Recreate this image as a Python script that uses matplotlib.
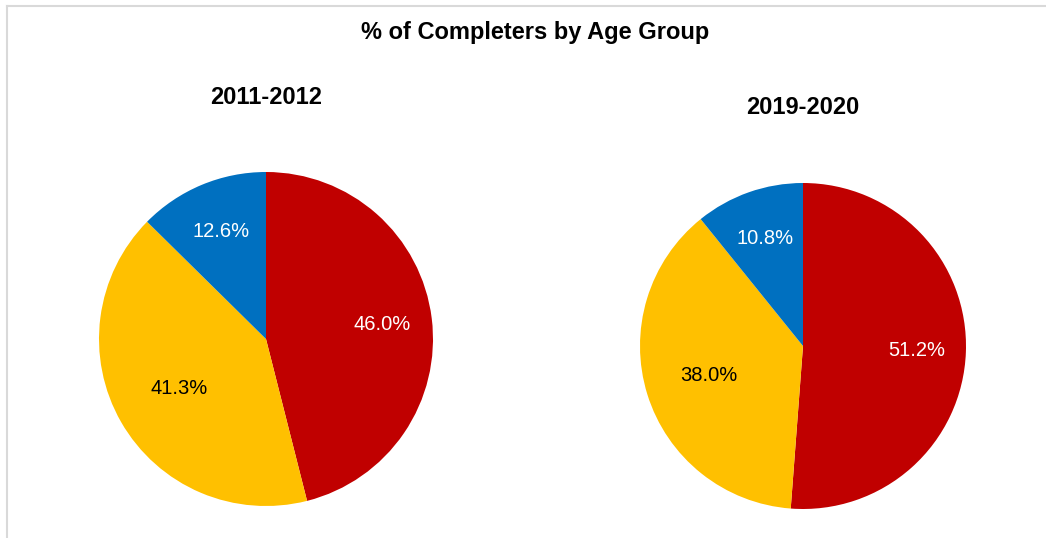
import matplotlib.pyplot as plt
from matplotlib.lines import Line2D

plt.rcParams['font.family'] = ['Liberation Sans', 'DejaVu Sans']

# Data
chart_title = '% of Completers by Age Group'
years = ['2011-2012', '2019-2020']
groups = ['Group A', 'Group B', 'Group C']
share_2011 = [46.0, 41.3, 12.6]
share_2020 = [51.2, 38.0, 10.8]
colors = ['#C00000', '#FFC000', '#0070C0']
label_colors = ['white', 'black', 'white']

fig = plt.figure(figsize=(10.46, 5.38), dpi=100)

# Chart area border (left and top edges visible)
fig.add_artist(Line2D([7 / 1046, 7 / 1046], [0, 1 - 6 / 538], color='#d9d9d9', lw=1.5))
fig.add_artist(Line2D([7 / 1046, 1], [1 - 6 / 538, 1 - 6 / 538], color='#d9d9d9', lw=1.5))

fig.text(535 / 1046, 1 - 32 / 538, chart_title, ha='center', va='center',
         fontsize=17, fontweight='bold')

axes_boxes = [
    [99 / 1046, 32 / 538, 334 / 1046, 334 / 538],
    [640 / 1046, 29 / 538, 326 / 1046, 326 / 538],
]
title_pos = [(266, 97), (803, 108)]
all_values = [share_2011, share_2020]

for box, values, year, tpos in zip(axes_boxes, all_values, years, title_pos):
    ax = fig.add_axes(box)
    wedges, texts, autotexts = ax.pie(
        values, colors=colors, startangle=90, counterclock=False,
        autopct='%1.1f%%', pctdistance=0.70,
        textprops={'fontsize': 14.5})
    for t, c in zip(autotexts, label_colors):
        t.set_color(c)
    # the large yellow label sits a little closer to the centre
    x, y = autotexts[1].get_position()
    autotexts[1].set_position((x * 0.86, y * 0.86))
    ax.set_xlim(-1, 1)
    ax.set_ylim(-1, 1)
    ax.set_aspect('equal')
    fig.text(tpos[0] / 1046, 1 - tpos[1] / 538, year, ha='center', va='center',
             fontsize=17, fontweight='bold')

fig.savefig('out.png', dpi=100)
